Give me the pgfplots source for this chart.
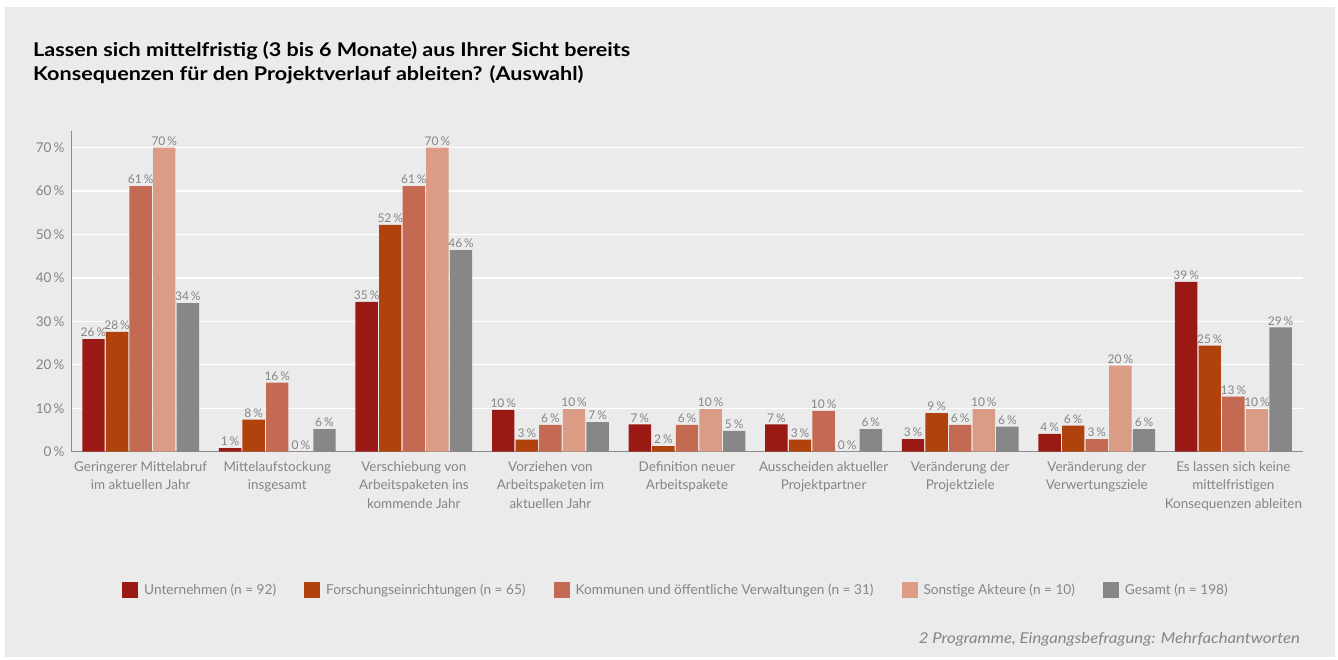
\documentclass[border=0pt]{standalone}
\usepackage{pgfplots}
\pgfplotsset{compat=1.18}
\usepackage{pgfplotstable}
\usepackage{fontspec}
\setmainfont{Lato}
\newfontfamily\titlefont[FakeStretch=1.14]{Lato}
\newfontfamily\srcfont[FakeStretch=1.12]{Lato}
\definecolor{bg}{HTML}{EBEBEB}
\definecolor{txt}{HTML}{858585}
\definecolor{cA}{HTML}{9B1915}
\definecolor{cB}{HTML}{B0420E}
\definecolor{cC}{HTML}{C46A52}
\definecolor{cD}{HTML}{DA9C84}
\definecolor{cE}{HTML}{878787}

\pgfplotstableread{
x y lab
0 25.9 26
1 0.8 1
2 34.5 35
3 9.6 10
4 6.3 7
5 6.3 7
6 2.9 3
7 4.1 4
8 39.1 39
}\serA
\pgfplotstableread{
x y lab
0 27.6 28
1 7.4 8
2 52.2 52
3 2.8 3
4 1.3 2
5 2.8 3
6 8.9 9
7 6.0 6
8 24.4 25
}\serB
\pgfplotstableread{
x y lab
0 61.1 61
1 15.9 16
2 61.1 61
3 6.2 6
4 6.2 6
5 9.4 10
6 6.2 6
7 2.9 3
8 12.7 13
}\serC
\pgfplotstableread{
x y lab
0 70.0 70
1 0.0 0
2 70.0 70
3 9.8 10
4 9.8 10
5 0.0 0
6 9.8 10
7 19.8 20
8 9.8 10
}\serD
\pgfplotstableread{
x y lab
0 34.2 34
1 5.2 6
2 46.4 46
3 6.8 7
4 4.8 5
5 5.2 6
6 5.8 6
7 5.2 6
8 28.6 29
}\serE

\begin{document}
\begin{tikzpicture}[x=1bp,y=1bp]
\fill[white] (0,0) rectangle (1338,-660);
\fill[bg] (5,-7) rectangle (1335,-657);
\node[anchor=north west, inner sep=0pt, align=left, font=\fontsize{19}{24.5}\selectfont\titlefont\bfseries, text=black] at (33,-41)
  {Lassen sich mittelfristig (3 bis 6 Monate) aus Ihrer Sicht bereits\\Konsequenzen für den Projektverlauf ableiten? (Auswahl)};
\node[anchor=base east, inner sep=0pt, font=\fontsize{15}{17}\selectfont\srcfont\itshape, text=txt] at (1300,-643)
  {2 Programme, Eingangsbefragung: Mehrfachantworten};
\begin{axis}[
  at={(71bp,-451.7bp)}, anchor=south west,
  scale only axis, width=1232bp, height=320.7bp,
  xmin=-0.51, xmax=8.51, ymin=0, ymax=73.8,
  ybar=1.2bp, bar width=22.4bp,
  axis x line*=bottom, axis y line*=left,
  axis line style={-, color=black!45, line width=1bp},
  major tick length=0pt,
  ymajorgrids, major grid style={white, line width=1.3bp},
  ytick={0,10,...,70},
  yticklabel={\pgfmathprintnumber{\tick}\,\%},
  /pgf/number format/assume math mode=true,
  yticklabel style={font=\fontsize{13.5}{16}\selectfont, text=txt, xshift=-3bp},
  xtick={0,...,8},
  xticklabels={{Geringerer Mittelabruf\\im aktuellen Jahr},{Mittelaufstockung\\insgesamt},{Verschiebung von\\Arbeitspaketen ins\\kommende Jahr},{Vorziehen von\\Arbeitspaketen im\\aktuellen Jahr},{Definition neuer\\Arbeitspakete},{Ausscheiden aktueller\\Projektpartner},{Veränderung der\\Projektziele},{Veränderung der\\Verwertungsziele},{Es lassen sich keine\\mittelfristigen\\Konsequenzen ableiten}},
  xticklabel style={align=center, font=\fontsize{13.5}{18.7}\selectfont, text=txt, yshift=-6bp},
  every axis plot/.append style={draw=none},
  nodes near coords={\pgfplotspointmeta\,\%},
  point meta=explicit symbolic,
  every node near coord/.append style={font=\fontsize{12}{13}\selectfont, text=txt, inner sep=2bp},
  legend columns=5,
  legend style={draw=none, fill=none, at={(axis description cs:0.039,-0.431)}, anchor=west,
    font=\fontsize{13.7}{15}\selectfont, text=txt,
    /tikz/every odd column/.append style={column sep=4bp},
    /tikz/every even column/.append style={column sep=26bp}},
  legend image code/.code={\fill[#1] (0bp,-8bp) rectangle (16bp,8bp);},
]
\addplot[fill=cA] table[x=x,y=y,meta=lab]{\serA};
\addplot[fill=cB] table[x=x,y=y,meta=lab]{\serB};
\addplot[fill=cC] table[x=x,y=y,meta=lab]{\serC};
\addplot[fill=cD] table[x=x,y=y,meta=lab]{\serD};
\addplot[fill=cE] table[x=x,y=y,meta=lab]{\serE};
\legend{Unternehmen (n = 92),Forschungseinrichtungen (n = 65),Kommunen und öffentliche Verwaltungen (n = 31),Sonstige Akteure (n = 10),Gesamt (n = 198)}
\end{axis}
\end{tikzpicture}
\end{document}
